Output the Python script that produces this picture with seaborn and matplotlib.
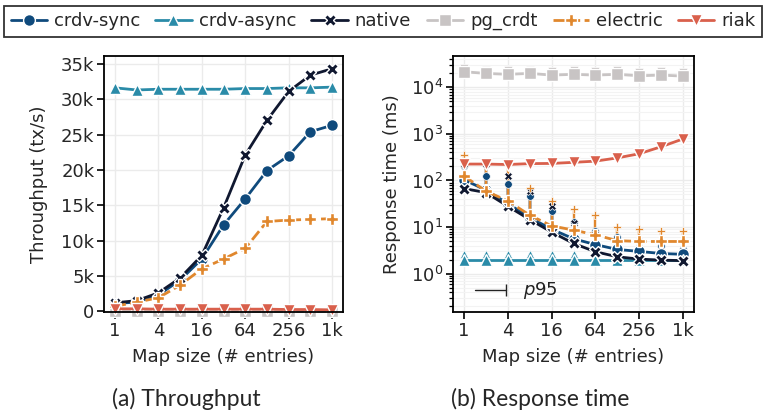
import numpy as np
import pandas as pd
import matplotlib
matplotlib.use("Agg")
import matplotlib.pyplot as plt
import seaborn as sns
from matplotlib.lines import Line2D
from matplotlib.ticker import FixedLocator, NullLocator, LogLocator, NullFormatter

# ---------------- data ----------------
map_sizes = [1, 2, 4, 8, 16, 32, 64, 128, 256, 512, 1024]
x_ticks = [1, 4, 16, 64, 256, 1024]
x_ticklabels = ["1", "4", "16", "64", "256", "1k"]
systems = ["crdv-sync", "crdv-async", "native", "pg_crdt", "electric", "riak"]

# throughput (tx/s)
tp_crdv_sync = [1100, 1300, 2300, 4400, 7400, 12200, 15900, 19900, 22000, 25400, 26300]
tp_crdv_async = [31600, 31300, 31400, 31400, 31400, 31400, 31500, 31500, 31600, 31600, 31700]
tp_native = [1200, 1500, 2600, 4700, 7900, 14600, 22100, 27000, 31100, 33400, 34300]
tp_pg_crdt = [50, 50, 50, 50, 50, 50, 50, 50, 50, 50, 50]
tp_electric = [700, 1300, 1900, 3700, 6000, 7400, 8900, 12700, 12900, 13000, 13100]
tp_riak = [350, 350, 300, 300, 300, 300, 300, 300, 250, 250, 200]

# response time mean (ms)
rt_crdv_sync = [104, 62, 32, 16, 9.0, 5.6, 4.2, 3.3, 3.0, 2.7, 2.6]
rt_crdv_async = [2.0, 2.0, 2.0, 2.0, 2.0, 2.0, 2.0, 2.0, 2.0, 2.0, 2.0]
rt_native = [67, 55, 28, 14.5, 7.8, 4.45, 2.95, 2.3, 2.05, 1.95, 1.9]
rt_pg_crdt = [21600, 19900, 19000, 19900, 18300, 19000, 18300, 19000, 17700, 18300, 17400]
rt_electric = [125, 59, 36.5, 18, 10.6, 8.6, 6.8, 5.1, 4.9, 4.9, 4.9]
rt_riak = [225, 225, 220, 230, 232, 245, 260, 305, 375, 530, 780]

# response time p95 (ms)
p95_crdv_sync = [200, 122, 85, 46, 22.5, 12.8, 8.3, 6.0, 5.1, 4.0, 3.4]
p95_crdv_async = [2.7, 2.7, 2.7, 2.7, 2.7, 2.7, 2.7, 2.7, 2.7, 2.7, 2.7]
p95_native = [230, 230, 127, 58, 28, 12.5, 7.2, 4.5, 3.6, 3.0, 2.8]
p95_pg_crdt = [26000, 24000, 23000, 24000, 22000, 23000, 22000, 23000, 21500, 22000, 21000]
p95_electric = [360, 235, 210, 69, 35.7, 24.6, 18.5, 9.9, 8.9, 8.4, 8.1]
p95_riak = [240, 240, 235, 245, 248, 262, 278, 325, 400, 565, 830]

tp = dict(zip(systems, [tp_crdv_sync, tp_crdv_async, tp_native, tp_pg_crdt, tp_electric, tp_riak]))
rt = dict(zip(systems, [rt_crdv_sync, rt_crdv_async, rt_native, rt_pg_crdt, rt_electric, rt_riak]))
p95 = dict(zip(systems, [p95_crdv_sync, p95_crdv_async, p95_native, p95_pg_crdt, p95_electric, p95_riak]))

colors = {"crdv-sync": "#0f4a7c", "crdv-async": "#2a8ba8", "native": "#101830",
          "pg_crdt": "#c8c4c4", "electric": "#e0872d", "riak": "#d9604c"}
markers = {"crdv-sync": "o", "crdv-async": "^", "native": "X",
           "pg_crdt": "s", "electric": "P", "riak": "v"}
dashes = {"crdv-sync": "", "crdv-async": "", "native": "",
          "pg_crdt": "", "electric": (4, 1.6), "riak": ""}

rows = []
for s in systems:
    for i, m in enumerate(map_sizes):
        rows.append({"system": s, "size": m, "tp": tp[s][i], "rt": rt[s][i], "p95": p95[s][i]})
df = pd.DataFrame(rows)

# ---------------- style ----------------
sns.set_theme(style="whitegrid")
plt.rcParams["font.family"] = ["DejaVu Sans"]
plt.rcParams["axes.edgecolor"] = "black"
plt.rcParams["axes.linewidth"] = 1.3
plt.rcParams["grid.color"] = "#ebebeb"
plt.rcParams["grid.linewidth"] = 1.0

FS = 13
fig = plt.figure(figsize=(7.66, 4.18), dpi=100)
ax1 = fig.add_axes([0.1358, 0.2536, 0.3120, 0.6124])
ax2 = fig.add_axes([0.5914, 0.2536, 0.3146, 0.6124])

LW = 2.0
MS = 8.5
MEW = 1.0

# throughput
sns.lineplot(data=df, x="size", y="tp", hue="system", style="system", hue_order=systems,
             style_order=systems, palette=colors, markers=markers, dashes=dashes,
             linewidth=LW, markersize=MS, markeredgecolor="white", markeredgewidth=MEW,
             legend=False, ax=ax1, clip_on=False)

# response time: p95 whiskers first
for s in systems:
    sub = df[df.system == s]
    ax2.vlines(sub["size"], sub["rt"], sub["p95"], color=colors[s], linewidth=1.7, zorder=1.5)
    ax2.plot(sub["size"], sub["p95"], linestyle="none", marker=markers[s], color=colors[s],
             markersize=5.5, markeredgecolor="white", markeredgewidth=0.5, zorder=1.6)

sns.lineplot(data=df, x="size", y="rt", hue="system", style="system", hue_order=systems,
             style_order=systems, palette=colors, markers=markers, dashes=dashes,
             linewidth=LW, markersize=MS, markeredgecolor="white", markeredgewidth=MEW,
             legend=False, ax=ax2, zorder=2)

for ax in (ax1, ax2):
    ax.set_xscale("log", base=2)
    ax.set_xlim(2 ** -0.5, 2 ** 10.5)
    ax.xaxis.set_major_locator(FixedLocator(x_ticks))
    ax.set_xticklabels(x_ticklabels)
    ax.xaxis.set_minor_locator(NullLocator())
    ax.set_xlabel("Map size (# entries)", fontsize=FS, labelpad=6)
    ax.tick_params(axis="both", which="major", labelsize=FS, length=5, width=1.2,
                   color="black", bottom=True, left=True, pad=2)
    for sp in ax.spines.values():
        sp.set_color("black")
        sp.set_linewidth(1.3)

ax1.set_ylim(-100, 36100)
ax1.set_yticks([0, 5000, 10000, 15000, 20000, 25000, 30000, 35000])
ax1.set_yticklabels(["0", "5k", "10k", "15k", "20k", "25k", "30k", "35k"])
ax1.set_ylabel("Throughput (tx/s)", fontsize=FS, labelpad=9)

ax2.set_yscale("log")
ax2.set_ylim(0.15, 47000)
ax2.yaxis.set_major_locator(LogLocator(base=10, numticks=10))
ax2.yaxis.set_minor_locator(LogLocator(base=10, subs=np.arange(2, 10), numticks=20))
ax2.yaxis.set_minor_formatter(NullFormatter())
ax2.tick_params(axis="y", which="minor", left=True, length=3, width=0.9, color="black")
ax2.grid(True, which="minor", axis="y", color="#f3f3f3", linewidth=0.8)
ax2.set_ylabel("Response time (ms)", fontsize=FS, labelpad=7)

# p95 key
ax2.plot([0.09, 0.22], [0.085, 0.085], transform=ax2.transAxes, color="#222222", linewidth=1.0)
ax2.plot([0.22], [0.085], transform=ax2.transAxes, color="#222222", marker="|", markersize=8,
         markeredgewidth=1.0)
ax2.text(0.29, 0.085, r"$p$95", transform=ax2.transAxes, fontsize=FS, va="center", ha="left",
         color="#222222")

# legend
handles = [Line2D([0], [0], color=colors[s], marker=markers[s], linewidth=LW,
                  linestyle=(0, dashes[s]) if dashes[s] else "-", markersize=MS,
                  markeredgecolor="white", markeredgewidth=MEW) for s in systems]
leg = fig.legend(handles, systems, loc="upper center", bbox_to_anchor=(0.5, 0.995), ncol=6,
                 fontsize=13, frameon=True, fancybox=False, edgecolor="black",
                 handlelength=2.0, handletextpad=0.4, columnspacing=0.85, borderpad=0.35,
                 borderaxespad=0.2)
leg.get_frame().set_linewidth(1.3)

fig.text(0.243, 0.045, "(a) Throughput", fontsize=16.5, family=["Lato", "DejaVu Sans"],
         ha="center", va="center")
fig.text(0.705, 0.045, "(b) Response time", fontsize=16.5, family=["Lato", "DejaVu Sans"],
         ha="center", va="center")

fig.savefig("out.png", dpi=100)
